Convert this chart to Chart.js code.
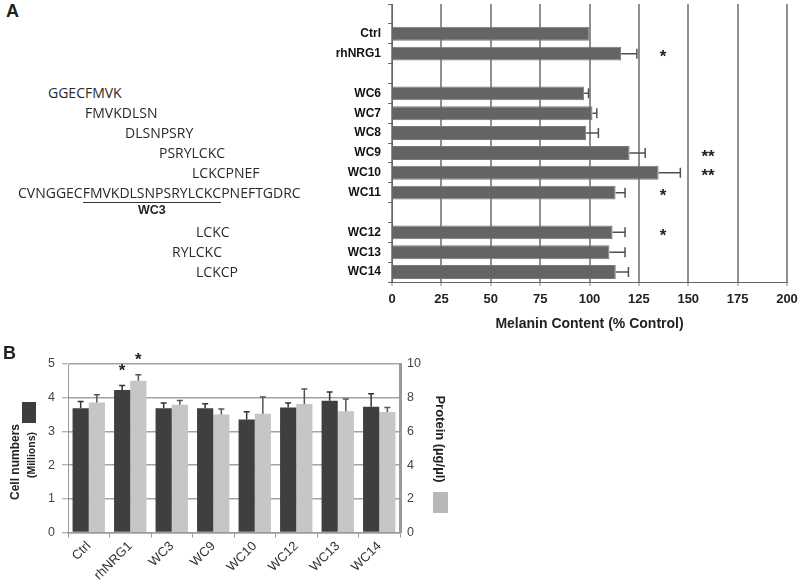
<!DOCTYPE html>
<html><head><meta charset="utf-8">
<script src="https://cdn.jsdelivr.net/npm/chart.js@4.4.1/dist/chart.umd.min.js"></script>
<style>
body{margin:0;background:#fff;}
#wrap{position:relative;width:800px;height:587px;overflow:hidden;background:#fff;font-family:"Liberation Sans",Arial,sans-serif;color:#222;}
canvas{position:absolute;}
.lbl{position:absolute;white-space:nowrap;}
.rot{position:absolute;white-space:nowrap;transform-origin:center center;}
.seq{position:absolute;white-space:nowrap;font-family:"Open Sans",sans-serif;font-size:14px;color:#2a2a2a;line-height:18px;}
.sw{position:absolute;}
</style></head>
<body><div id="wrap">
<canvas id="chartA" width="500" height="345" style="left:300px;top:0;width:500px;height:345px"></canvas>
<canvas id="chartB" width="460" height="247" style="left:0;top:340px;width:460px;height:247px"></canvas>
<div class="lbl" style="left:6px;top:1px;font-weight:bold;font-size:18px">A</div>
<div class="lbl" style="left:3px;top:343px;font-weight:bold;font-size:18px">B</div>
<div class="rot" style="left:15px;top:462px;font-weight:bold;font-size:12px;transform:translate(-50%,-50%) rotate(-90deg)">Cell numbers</div>
<div class="rot" style="left:31px;top:455px;font-weight:bold;font-size:10.5px;transform:translate(-50%,-50%) rotate(-90deg)">(Millions)</div>
<div class="sw" style="left:22px;top:402px;width:14px;height:21px;background:#3d3d3d"></div>
<div class="rot" style="left:440px;top:439px;font-weight:bold;font-size:13px;transform:translate(-50%,-50%) rotate(90deg)">Protein (µg/µl)</div>
<div class="sw" style="left:433px;top:492px;width:15px;height:21px;background:#b8b8b8"></div>
<div id="seqs"></div>
</div>
<script>
// ---------- Panel A data ----------
const catA = ['', 'Ctrl', 'rhNRG1', '', 'WC6', 'WC7', 'WC8', 'WC9', 'WC10', 'WC11', '', 'WC12', 'WC13', 'WC14'];
const melanin = [null, 100, 116, null, 97.3, 101.5, 98.3, 120.3, 135, 113.2, null, 111.7, 110.1, 113.3];
const melaninErr = [null, 0, 8, null, 2.2, 2.2, 6.2, 7.9, 11, 4.8, null, 6.3, 7.9, 6.4];
const sigA = ['', '', '*', '', '', '', '', '**', '**', '*', '', '*', '', ''];
const ticksA = [0, 25, 50, 75, 100, 125, 150, 175, 200];

// peptide sequences shown left of panel A (row label -> sequence)
const fullSeq = 'CVNGGECFMVKDLSNPSRYLCKCPNEFTGDRC';
const wc3Seq = 'FMVKDLSNPSRYLCKC';
const seqRows = ['WC6', 'WC7', 'WC8', 'WC9', 'WC10', 'WC11', 'WC12', 'WC13', 'WC14'];
const seqTexts = ['GGECFMVK', 'FMVKDLSN', 'DLSNPSRY', 'PSRYLCKC', 'LCKCPNEF', fullSeq, 'LCKC', 'RYLCKC', 'LCKCP'];

// ---------- Panel B data ----------
const catB = ['Ctrl', 'rhNRG1', 'WC3', 'WC9', 'WC10', 'WC12', 'WC13', 'WC14'];
const cellNumbers = [3.69, 4.23, 3.69, 3.69, 3.35, 3.71, 3.91, 3.73];
const cellErr = [0.20, 0.13, 0.15, 0.13, 0.23, 0.13, 0.26, 0.39];
const protein = [7.72, 9.01, 7.58, 7.00, 7.05, 7.63, 7.19, 7.15];
const proteinErr = [0.46, 0.35, 0.26, 0.33, 0.99, 0.89, 0.73, 0.27];
const sigCells = ['', '*', '', '', '', '', '', ''];
const sigProtein = ['', '*', '', '', '', '', '', ''];

// ---------- layout (style only) ----------
const seqLeft = [48, 85, 125, 159, 192, 18, 196, 172, 196];

const errorBars = {
  id: 'errorBars',
  afterDatasetsDraw(chart, args, opts) {
    const ctx = chart.ctx;
    const horizontal = chart.options.indexAxis === 'y';
    (opts.sets || []).forEach(s => {
      const meta = chart.getDatasetMeta(s.dataset);
      const ds = chart.data.datasets[s.dataset];
      const vScale = meta.vScale;
      ctx.save();
      ctx.strokeStyle = s.color;
      ctx.lineWidth = s.width;
      meta.data.forEach((el, i) => {
        const v = ds.data[i];
        const e = s.errors[i];
        if (v == null || e == null) return;
        const end = vScale.getPixelForValue(v + e);
        ctx.beginPath();
        if (horizontal) {
          if (e > 0) {
            ctx.moveTo(el.x, el.y); ctx.lineTo(end, el.y);
            ctx.moveTo(end, el.y - s.cap); ctx.lineTo(end, el.y + s.cap);
          }
        } else {
          ctx.moveTo(el.x, el.y); ctx.lineTo(el.x, end);
          ctx.moveTo(el.x - s.cap, end); ctx.lineTo(el.x + s.cap, end);
        }
        ctx.stroke();
        const st = s.stars ? s.stars[i] : '';
        if (st) {
          ctx.fillStyle = '#222';
          ctx.font = 'bold 17px "Liberation Sans", Arial, sans-serif';
          ctx.textAlign = 'center';
          ctx.textBaseline = 'middle';
          if (horizontal) {
            ctx.fillText(st, vScale.getPixelForValue(s.starPos[st]), el.y + 4);
          } else {
            ctx.fillText(st, el.x, end - s.starGap);
          }
        }
      });
      ctx.restore();
    });
  }
};

const zeroPad = s => { s.paddingTop = 0; s.paddingBottom = 0; s.paddingLeft = 0; s.paddingRight = 0; };

// ---------- Chart A ----------
const chartA = new Chart(document.getElementById('chartA'), {
  type: 'bar',
  data: {
    labels: catA,
    datasets: [{
      data: melanin,
      backgroundColor: '#646464',
      borderColor: '#7a7a7a',
      borderWidth: 1,
      barPercentage: 0.7,
      categoryPercentage: 1
    }]
  },
  options: {
    indexAxis: 'y',
    responsive: false,
    animation: false,
    layout: { padding: { top: 4, right: 13, left: 0, bottom: 0 } },
    plugins: {
      legend: { display: false },
      tooltip: { enabled: false },
      errorBars: {
        sets: [{ dataset: 0, errors: melaninErr, stars: sigA, starPos: { '*': 137.3, '**': 160 }, color: '#505050', width: 1.5, cap: 5 }]
      }
    },
    scales: {
      x: {
        min: 0, max: 200,
        afterBuildTicks: s => { s.ticks = ticksA.map(v => ({ value: v })); },
        afterFit: s => { s.height = 63; zeroPad(s); },
        grid: { color: '#8f8f8f', lineWidth: 2, tickLength: 4, tickColor: '#888', tickWidth: 1 },
        border: { display: true, color: '#666', width: 1 },
        ticks: { padding: 6, color: '#222', font: { family: '"Liberation Sans", Arial, sans-serif', size: 13, weight: 'bold' } },
        title: { display: true, text: 'Melanin Content (% Control)', color: '#222', padding: { top: 0, bottom: 12 }, font: { family: '"Liberation Sans", Arial, sans-serif', size: 14, weight: 'bold' } }
      },
      y: {
        afterFit: s => { s.width = 92; zeroPad(s); },
        grid: { drawOnChartArea: false, tickLength: 4, color: '#666', tickColor: '#666', tickWidth: 1 },
        border: { display: true, color: '#666', width: 1 },
        ticks: { autoSkip: false, padding: 7, color: '#111', font: { family: '"Liberation Sans", Arial, sans-serif', size: 12, weight: 'bold' } }
      }
    }
  },
  plugins: [errorBars]
});

// peptide text, aligned to chart A rows
(function () {
  const box = document.getElementById('seqs');
  const yScale = chartA.scales.y;
  seqRows.forEach((row, k) => {
    const idx = catA.indexOf(row);
    const yc = yScale.getPixelForValue(idx);
    const d = document.createElement('div');
    d.className = 'seq';
    d.style.left = seqLeft[k] + 'px';
    d.style.top = (yc - 9) + 'px';
    const txt = seqTexts[k];
    const p = txt.indexOf(wc3Seq);
    if (txt === fullSeq && p >= 0) {
      d.innerHTML = txt.slice(0, p) + '<span id="wc3u" style="border-bottom:1px solid #333;">' + wc3Seq + '</span>' + txt.slice(p + wc3Seq.length);
    } else {
      d.textContent = txt;
    }
    box.appendChild(d);
    if (txt === fullSeq && p >= 0) {
      const u = document.getElementById('wc3u');
      const r = u.getBoundingClientRect();
      const w = document.createElement('div');
      w.className = 'lbl';
      w.textContent = 'WC3';
      w.style.fontWeight = 'bold';
      w.style.fontSize = '12.5px';
      w.style.left = (r.left + r.width / 2) + 'px';
      w.style.top = (yc + 10) + 'px';
      w.style.transform = 'translateX(-50%)';
      box.appendChild(w);
    }
  });
})();

// ---------- Chart B ----------
new Chart(document.getElementById('chartB'), {
  type: 'bar',
  data: {
    labels: catB,
    datasets: [
      { label: 'Cell numbers (Millions)', data: cellNumbers, yAxisID: 'y', backgroundColor: '#3f3f3f', barPercentage: 1, categoryPercentage: 0.78 },
      { label: 'Protein (µg/µl)', data: protein, yAxisID: 'y1', backgroundColor: '#c6c6c6', barPercentage: 1, categoryPercentage: 0.78 }
    ]
  },
  options: {
    responsive: false,
    animation: false,
    layout: { padding: { top: 24, right: 0, left: 0, bottom: 0 } },
    plugins: {
      legend: { display: false },
      tooltip: { enabled: false },
      errorBars: {
        sets: [
          { dataset: 0, errors: cellErr, stars: sigCells, starGap: 14, color: '#333', width: 1.5, cap: 3 },
          { dataset: 1, errors: proteinErr, stars: sigProtein, starGap: 14, color: '#555', width: 1.5, cap: 3 }
        ]
      }
    },
    scales: {
      x: {
        afterFit: s => { s.height = 54.5; zeroPad(s); },
        grid: { drawOnChartArea: false, tickLength: 5, color: '#999', tickColor: '#999' },
        border: { display: true, color: '#999', width: 1.5 },
        ticks: { autoSkip: false, minRotation: 45, maxRotation: 45, padding: 1, color: '#333', font: { family: '"Liberation Sans", Arial, sans-serif', size: 13 } }
      },
      y: {
        position: 'left',
        min: 0, max: 5,
        afterFit: s => { s.width = 68; zeroPad(s); },
        grid: { color: '#a3a3a3', lineWidth: 1.5, tickLength: 6, tickColor: '#999', tickWidth: 1 },
        border: { display: true, color: '#999', width: 1 },
        ticks: { stepSize: 1, padding: 7, color: '#444', font: { family: '"Liberation Sans", Arial, sans-serif', size: 12.5 } }
      },
      y1: {
        position: 'right',
        min: 0, max: 10,
        afterFit: s => { s.width = 60; zeroPad(s); },
        grid: { drawOnChartArea: false, drawTicks: false },
        border: { display: true, color: '#9a9a9a', width: 3 },
        ticks: { stepSize: 2, padding: 7, color: '#444', font: { family: '"Liberation Sans", Arial, sans-serif', size: 12.5 } }
      }
    }
  },
  plugins: [errorBars]
});
</script>
</body></html>
